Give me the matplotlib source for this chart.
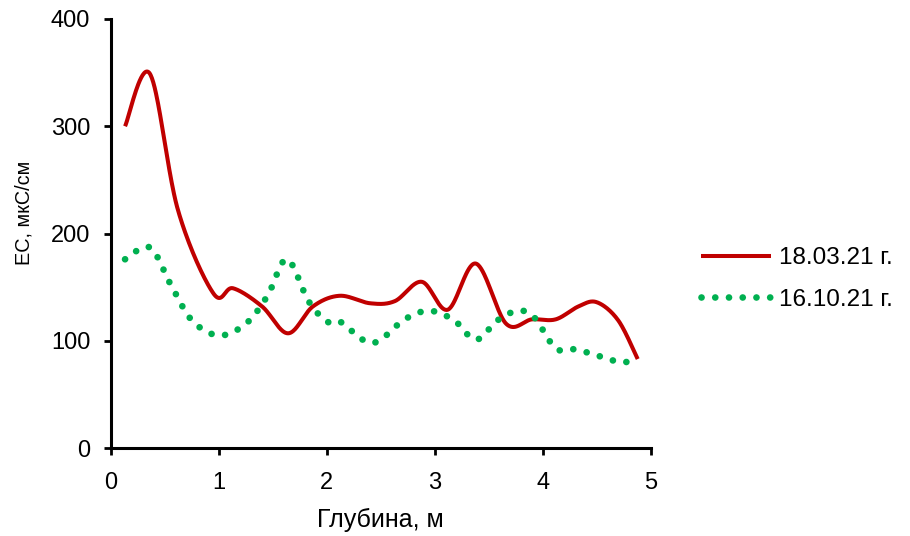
import numpy as np
import matplotlib
matplotlib.use("Agg")
import matplotlib.pyplot as plt

plt.rcParams['font.family'] = ['Liberation Sans', 'DejaVu Sans']

# Depth (m) and electrical conductivity (uS/cm) for the two survey dates
depth_mar = [0.13, 0.36, 0.62, 0.95, 1.13, 1.40, 1.64, 1.87, 2.12, 2.40, 2.63,
             2.88, 3.12, 3.38, 3.66, 3.90, 4.12, 4.33, 4.50, 4.70, 4.88]
ec_mar = [300, 349, 222, 144, 149, 132, 107, 132, 142, 135, 137,
          155, 129, 172, 116, 120, 120, 132, 136, 119, 83]

depth_oct = [0.13, 0.36, 0.55, 0.75, 1.00, 1.25, 1.45, 1.63, 1.83, 2.00, 2.12,
             2.42, 2.72, 2.95, 3.18, 3.38, 3.58, 3.77, 3.92, 4.12, 4.30, 4.55,
             4.72, 4.86]
ec_oct = [176, 187, 153, 119, 105, 116, 142, 176, 137, 118, 118,
          98, 120, 128, 119, 101, 119, 128, 122, 93, 92, 85,
          80, 82]

label_mar = "18.03.21 г."
label_oct = "16.10.21 г."
x_ticks = [0, 1, 2, 3, 4, 5]
y_ticks = [0, 100, 200, 300, 400]


def smooth(xs, ys, n=40):
    """Bezier smoothing through every point (spreadsheet-style smoothed line)."""
    p = np.column_stack([xs, ys]).astype(float)
    ext = np.vstack([p[0], p, p[-1]])
    out = []
    t = np.linspace(0, 1, n)[:, None]
    for i in range(len(p) - 1):
        p0, p1, p2, p3 = ext[i], ext[i + 1], ext[i + 2], ext[i + 3]
        c1 = p1 + (p2 - p0) / 6.0
        c2 = p2 - (p3 - p1) / 6.0
        seg = ((1 - t) ** 3) * p1 + 3 * ((1 - t) ** 2) * t * c1 \
            + 3 * (1 - t) * t ** 2 * c2 + t ** 3 * p2
        out.append(seg if i == 0 else seg[1:])
    s = np.vstack(out)
    return s[:, 0], s[:, 1]


fig = plt.figure(figsize=(9.1, 5.36), dpi=100)
ax = fig.add_axes([0.122, 0.164, 0.593, 0.8006])

xm, ym = smooth(depth_mar, ec_mar)
xo, yo = smooth(depth_oct, ec_oct)

ax.plot(xm, ym, color="#C00000", lw=2.9, solid_capstyle="butt", label=label_mar)
ax.plot(xo, yo, color="#00B050", lw=4.8, linestyle=(0, (0.01, 2.05)),
        dash_capstyle="round", label=label_oct)

ax.set_xlim(0, 5)
ax.set_ylim(0, 400)
ax.set_xticks(x_ticks)
ax.set_yticks(y_ticks)
ax.tick_params(labelsize=17, length=5, width=2.0, direction="out")
ax.tick_params(axis="x", pad=12)
ax.tick_params(axis="y", pad=10)
for side in ("top", "right"):
    ax.spines[side].set_visible(False)
for side in ("left", "bottom"):
    ax.spines[side].set_linewidth(2.2)

ax.set_xlabel("Глубина, м", fontsize=18, va="center")
ax.xaxis.set_label_coords(0.5, -0.168)
ax.set_ylabel("EC, мкС/см", fontsize=14.3, va="center")
ax.yaxis.set_label_coords(-0.162, 0.548)

leg = ax.legend(loc="center left", bbox_to_anchor=(1.094, 0.394), frameon=False,
                fontsize=17.5, handlelength=2.88, handletextpad=0.33,
                labelspacing=0.8, borderpad=0, borderaxespad=0)

fig.savefig("out.png", dpi=100)
